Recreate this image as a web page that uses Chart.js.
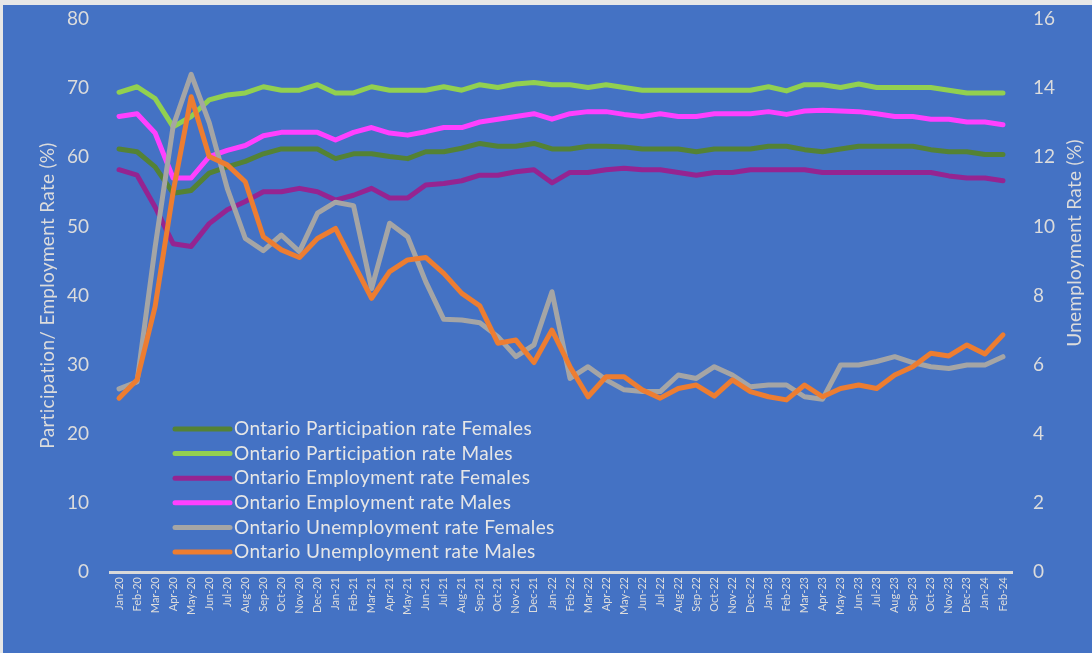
<!DOCTYPE html>
<html>
<head>
<meta charset="utf-8">
<script src="https://cdn.jsdelivr.net/npm/chart.js@4.4.1/dist/chart.umd.min.js"></script>
<style>
  html, body { margin: 0; padding: 0; background: #e7e7e7; width: 1092px; height: 653px; overflow: hidden; }
  #wrap { position: absolute; left: 3px; top: 5px; width: 1089px; height: 648px; background: #4472C4; }
  canvas { display: block; }
</style>
</head>
<body>
<div id="wrap"><canvas id="c" width="1089" height="648"></canvas></div>
<script>
const months = ["Jan-20","Feb-20","Mar-20","Apr-20","May-20","Jun-20","Jul-20","Aug-20","Sep-20","Oct-20","Nov-20","Dec-20",
  "Jan-21","Feb-21","Mar-21","Apr-21","May-21","Jun-21","Jul-21","Aug-21","Sep-21","Oct-21","Nov-21","Dec-21",
  "Jan-22","Feb-22","Mar-22","Apr-22","May-22","Jun-22","Jul-22","Aug-22","Sep-22","Oct-22","Nov-22","Dec-22",
  "Jan-23","Feb-23","Mar-23","Apr-23","May-23","Jun-23","Jul-23","Aug-23","Sep-23","Oct-23","Nov-23","Dec-23",
  "Jan-24","Feb-24"];

const participationFemales = [61.2,60.8,58.6,54.8,55.2,57.7,58.6,59.4,60.5,61.2,61.2,61.2,
  59.8,60.5,60.5,60.1,59.8,60.8,60.8,61.3,62.0,61.6,61.6,62.0,
  61.2,61.2,61.6,61.6,61.5,61.2,61.2,61.2,60.8,61.2,61.2,61.2,
  61.6,61.6,61.1,60.8,61.2,61.6,61.6,61.6,61.6,61.1,60.8,60.8,
  60.4,60.4];

const participationMales = [69.4,70.2,68.5,64.4,65.9,68.3,69.0,69.3,70.2,69.7,69.7,70.5,
  69.3,69.3,70.2,69.7,69.7,69.7,70.2,69.7,70.5,70.1,70.6,70.8,
  70.5,70.5,70.1,70.5,70.1,69.7,69.7,69.7,69.7,69.7,69.7,69.7,
  70.2,69.6,70.5,70.5,70.1,70.6,70.1,70.1,70.1,70.1,69.7,69.3,
  69.3,69.3];

const employmentFemales = [58.2,57.4,52.8,47.5,47.1,50.4,52.4,53.6,55.0,55.0,55.5,55.0,
  53.8,54.5,55.5,54.1,54.1,56.0,56.2,56.6,57.4,57.4,57.9,58.2,
  56.3,57.8,57.8,58.2,58.4,58.2,58.2,57.8,57.4,57.8,57.8,58.2,
  58.2,58.2,58.2,57.8,57.8,57.8,57.8,57.8,57.8,57.8,57.3,57.0,
  57.0,56.6];

const employmentMales = [65.9,66.3,63.5,57.0,57.0,60.1,61.0,61.7,63.1,63.6,63.6,63.6,
  62.5,63.6,64.3,63.5,63.2,63.7,64.3,64.3,65.1,65.5,65.9,66.3,
  65.5,66.3,66.6,66.6,66.2,65.9,66.3,65.9,65.9,66.3,66.3,66.3,
  66.6,66.2,66.7,66.8,66.7,66.6,66.3,65.9,65.9,65.5,65.5,65.1,
  65.1,64.7];

const unemploymentFemales = [5.3,5.5,9.4,12.9,14.4,13.0,11.1,9.65,9.3,9.75,9.27,10.38,
  10.7,10.6,8.2,10.09,9.7,8.4,7.31,7.29,7.21,6.81,6.23,6.57,
  8.11,5.6,5.94,5.56,5.27,5.22,5.22,5.7,5.6,5.94,5.7,5.36,
  5.41,5.41,5.07,5.0,5.99,5.99,6.09,6.23,6.06,5.94,5.89,5.99,
  5.99,6.23];

const unemploymentMales = [5.03,5.56,7.68,11.0,13.75,12.02,11.78,11.29,9.7,9.32,9.1,9.65,
  9.94,8.93,7.92,8.69,9.03,9.1,8.64,8.06,7.7,6.62,6.71,6.06,
  7.0,5.94,5.07,5.65,5.65,5.27,5.03,5.31,5.41,5.09,5.56,5.22,
  5.07,4.98,5.41,5.07,5.31,5.41,5.31,5.7,5.94,6.33,6.25,6.57,
  6.31,6.86];

const seriesLabels = ["Ontario Participation rate Females","Ontario Participation rate Males",
  "Ontario Employment rate Females","Ontario Employment rate Males",
  "Ontario Unemployment rate Females","Ontario Unemployment rate Males"];
const seriesColors = ["#548235","#92D050","#952491","#FF40FF","#A5A5A5","#ED7D31"];
const leftTitle = "Participation/ Employment Rate (%)";
const rightTitle = "Unemployment Rate (%)";

const FONT = "Lato, 'Open Sans', sans-serif";
const TXT = "#dcdcdc";

const seriesValues = [participationFemales, participationMales, employmentFemales, employmentMales, unemploymentFemales, unemploymentMales];
const datasets = seriesValues.map((vals, i) => ({
  label: seriesLabels[i],
  data: vals,
  borderColor: seriesColors[i],
  backgroundColor: seriesColors[i],
  borderWidth: 5,
  pointRadius: 0,
  pointHoverRadius: 0,
  tension: 0,
  borderCapStyle: 'round',
  borderJoinStyle: 'round',
  fill: false,
  yAxisID: i < 4 ? 'y' : 'y1',
  order: 5 - i
}));

const overlayPlugin = {
  id: 'overlay',
  afterDraw(chart) {
    const ctx = chart.ctx;
    const area = chart.chartArea;
    ctx.save();
    // axis titles
    ctx.fillStyle = TXT;
    ctx.font = "19px " + FONT;
    ctx.letterSpacing = "0.3px";
    ctx.textAlign = 'center';
    ctx.textBaseline = 'middle';
    ctx.save();
    ctx.translate(45, (area.top + area.bottom) / 2);
    ctx.rotate(-Math.PI / 2);
    ctx.fillText(leftTitle, 0, 0);
    ctx.restore();
    ctx.save();
    ctx.translate(1072, 238);
    ctx.rotate(-Math.PI / 2);
    ctx.fillText(rightTitle, 0, 0);
    ctx.restore();
    // legend
    const x0 = 172, lineLen = 55, textX = 231, y0 = 424, dy = 24.6;
    ctx.textAlign = 'left';
    ctx.font = "19px " + FONT;
    ctx.letterSpacing = "0.4px";
    chart.data.datasets.forEach((ds, i) => {
      const y = y0 + i * dy;
      ctx.strokeStyle = ds.borderColor;
      ctx.lineWidth = 5;
      ctx.lineCap = 'round';
      ctx.beginPath();
      ctx.moveTo(x0, y);
      ctx.lineTo(x0 + lineLen, y);
      ctx.stroke();
      ctx.fillStyle = "#e6e6e6";
      ctx.fillText(ds.label, textX, y);
    });
    ctx.restore();
  }
};

const hiddenGrid = { display: true, color: 'rgba(0,0,0,0)', drawOnChartArea: false, drawTicks: true };

new Chart(document.getElementById('c'), {
  type: 'line',
  data: { labels: months, datasets: datasets },
  options: {
    responsive: false,
    animation: false,
    layout: { padding: { top: 14, left: 0, right: 0, bottom: 0 } },
    plugins: { legend: { display: false }, tooltip: { enabled: false } },
    scales: {
      x: {
        offset: true,
        grid: { display: false, drawTicks: false },
        border: { display: true, color: '#d9d9d9', width: 3 },
        ticks: { autoSkip: false, maxRotation: 90, minRotation: 90, color: TXT, padding: 5, font: { family: FONT, size: 11 } },
        afterFit(scale) { scale.height = 81; }
      },
      y: {
        position: 'left',
        min: 0, max: 80,
        grid: Object.assign({ tickLength: 19 }, hiddenGrid),
        border: { display: false },
        ticks: { stepSize: 10, color: TXT, padding: 2, font: { family: FONT, size: 19 } },
        afterFit(scale) { scale.width = 107; }
      },
      y1: {
        position: 'right',
        min: 0, max: 16,
        grid: Object.assign({ tickLength: 19 }, hiddenGrid),
        border: { display: false },
        ticks: { stepSize: 2, color: TXT, padding: 2, font: { family: FONT, size: 19 } },
        afterFit(scale) { scale.width = 80; }
      }
    }
  },
  plugins: [overlayPlugin]
});
</script>
</body>
</html>
